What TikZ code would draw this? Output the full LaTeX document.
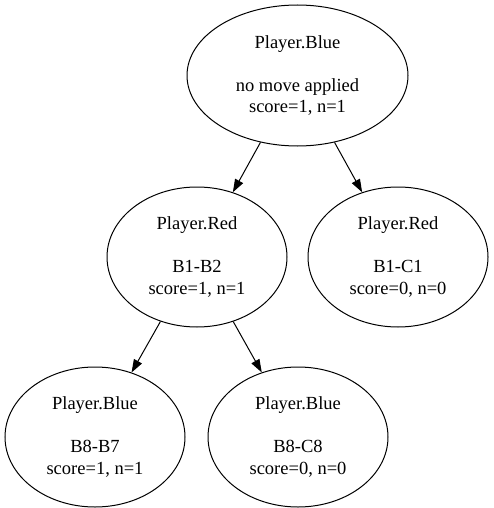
\documentclass[tikz,border=0pt]{standalone}
\usepackage{fontspec}
\setmainfont{Liberation Serif}
\usepackage{tikz}
\usetikzlibrary{arrows.meta,shapes.geometric}
\tikzset{
  state/.style={draw,ellipse,line width=1pt,inner sep=0pt,align=center,
    font=\fontsize{18.5}{21.5}\selectfont,minimum width=180pt,minimum height=140pt},
  arr/.style={-{Triangle[length=13pt,width=9pt]},line width=1pt},
}

\begin{document}
\begin{tikzpicture}[x=1pt,y=-1pt]
  \useasboundingbox (0,0) rectangle (493,508);
  \node[state,minimum width=221pt,minimum height=141pt] (root) at (297.5,75.5)
    {Player.Blue\\[21.5pt]no move applied\\score=1, n=1};
  \node[state] (rb2) at (197,257) {Player.Red\\[21.5pt]B1-B2\\score=1, n=1};
  \node[state] (rc1) at (398,257) {Player.Red\\[21.5pt]B1-C1\\score=0, n=0};
  \node[state] (bb7) at (95,437) {Player.Blue\\[21.5pt]B8-B7\\score=1, n=1};
  \node[state] (bc8) at (298,437) {Player.Blue\\[21.5pt]B8-C8\\score=0, n=0};
  \foreach \p/\q in {root/rb2,root/rc1,rb2/bb7,rb2/bc8}{\draw[arr] (\p) -- (\q);}
\end{tikzpicture}
\end{document}
